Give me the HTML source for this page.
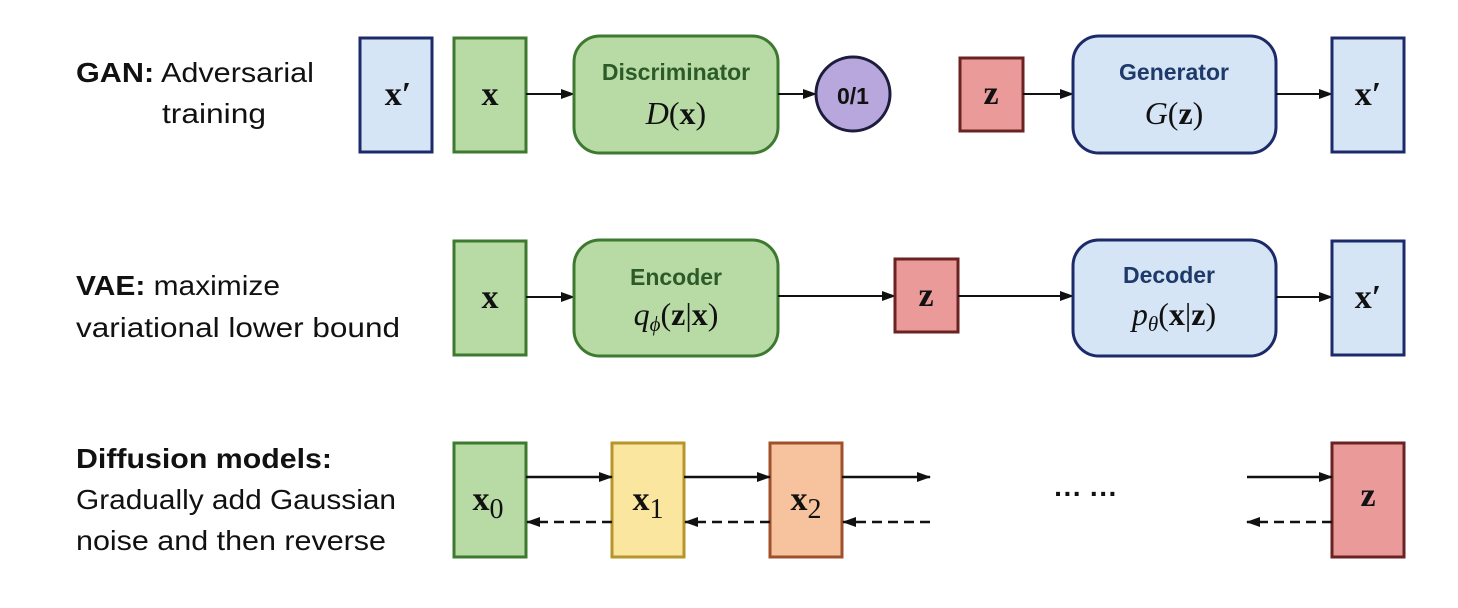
<!DOCTYPE html>
<html><head><meta charset="utf-8"><style>
html,body{margin:0;padding:0;background:#fff;}
svg{display:block;}
.t{font-family:"Liberation Sans",sans-serif;font-size:28px;fill:#111;}
.b{font-weight:bold;}
.m{font-family:"Liberation Serif",serif;font-weight:bold;font-size:34px;fill:#111;text-anchor:middle;}
.mi{font-family:"Liberation Serif",serif;font-size:32px;fill:#111;text-anchor:middle;}
.lab{font-family:"Liberation Sans",sans-serif;font-weight:bold;font-size:23px;text-anchor:middle;}
</style></head><body>
<svg width="1458" height="608" viewBox="0 0 1458 608" xmlns="http://www.w3.org/2000/svg">
<defs>
<marker id="a" markerWidth="14" markerHeight="10" refX="13" refY="5" orient="auto" markerUnits="userSpaceOnUse"><path d="M0,0 L14,5 L0,10 z" fill="#111"/></marker>
</defs>
<!-- left labels -->
<text class="t" x="76" y="82" textLength="238" lengthAdjust="spacingAndGlyphs"><tspan class="b">GAN:</tspan> Adversarial</text>
<text class="t" x="162" y="123" textLength="104" lengthAdjust="spacingAndGlyphs">training</text>
<text class="t" x="76" y="295" textLength="204" lengthAdjust="spacingAndGlyphs"><tspan class="b">VAE:</tspan> maximize</text>
<text class="t" x="76" y="337" textLength="324" lengthAdjust="spacingAndGlyphs">variational lower bound</text>
<text class="t b" x="76" y="468" textLength="256" lengthAdjust="spacingAndGlyphs">Diffusion models:</text>
<text class="t" x="76" y="509" textLength="320" lengthAdjust="spacingAndGlyphs">Gradually add Gaussian</text>
<text class="t" x="76" y="550" textLength="310" lengthAdjust="spacingAndGlyphs">noise and then reverse</text>

<g stroke-width="3">
<!-- GAN -->
<rect x="360" y="38" width="72" height="114" fill="#d5e5f5" stroke="#1c2a6a"/>
<text class="m" x="398" y="105">x′</text>
<rect x="454" y="38" width="72" height="114" fill="#b8dba5" stroke="#3d7a30"/>
<text class="m" x="490" y="105">x</text>
<line x1="526" y1="94" x2="574" y2="94" stroke="#111" stroke-width="2" marker-end="url(#a)"/>
<rect x="574" y="36" width="204" height="117" rx="26" fill="#b8dba5" stroke="#3d7a30"/>
<text class="lab" x="676" y="80" fill="#2c5a28">Discriminator</text>
<text class="mi" x="676" y="124"><tspan font-style="italic">D</tspan>(<tspan font-weight="bold">x</tspan>)</text>
<line x1="778" y1="94" x2="816" y2="94" stroke="#111" stroke-width="2" marker-end="url(#a)"/>
<circle cx="853" cy="94" r="37" fill="#b7a7dc" stroke="#1c1c3c"/>
<text class="lab" x="853" y="104" font-size="28" fill="#111">0/1</text>

<rect x="960" y="58" width="63" height="73" fill="#eb9a9a" stroke="#6a2222"/>
<text class="m" x="991" y="104">z</text>
<line x1="1023" y1="94" x2="1073" y2="94" stroke="#111" stroke-width="2" marker-end="url(#a)"/>
<rect x="1073" y="36" width="203" height="117" rx="26" fill="#d5e5f5" stroke="#1c2a6a"/>
<text class="lab" x="1174" y="80" fill="#1e3a6a">Generator</text>
<text class="mi" x="1174" y="124"><tspan font-style="italic">G</tspan>(<tspan font-weight="bold">z</tspan>)</text>
<line x1="1276" y1="94" x2="1332" y2="94" stroke="#111" stroke-width="2" marker-end="url(#a)"/>
<rect x="1332" y="38" width="72" height="114" fill="#d5e5f5" stroke="#1c2a6a"/>
<text class="m" x="1368" y="105">x′</text>

<!-- VAE -->
<rect x="454" y="241" width="72" height="114" fill="#b8dba5" stroke="#3d7a30"/>
<text class="m" x="490" y="308">x</text>
<line x1="526" y1="297" x2="574" y2="297" stroke="#111" stroke-width="2" marker-end="url(#a)"/>
<rect x="574" y="240" width="204" height="116" rx="26" fill="#b8dba5" stroke="#3d7a30"/>
<text class="lab" x="676" y="285" fill="#2c5a28">Encoder</text>
<text class="mi" x="676" y="325"><tspan font-style="italic">q<tspan font-size="21" dy="6">ϕ</tspan></tspan><tspan dy="-6">(</tspan><tspan font-weight="bold">z</tspan>|<tspan font-weight="bold">x</tspan>)</text>
<line x1="778" y1="296" x2="895" y2="296" stroke="#111" stroke-width="2" marker-end="url(#a)"/>
<rect x="895" y="259" width="63" height="73" fill="#eb9a9a" stroke="#6a2222"/>
<text class="m" x="926" y="306">z</text>
<line x1="958" y1="296" x2="1073" y2="296" stroke="#111" stroke-width="2" marker-end="url(#a)"/>
<rect x="1073" y="240" width="203" height="116" rx="26" fill="#d5e5f5" stroke="#1c2a6a"/>
<text class="lab" x="1169" y="283" fill="#1e3a6a">Decoder</text>
<text class="mi" x="1174" y="325"><tspan font-style="italic">p<tspan font-size="21" dy="6">θ</tspan></tspan><tspan dy="-6">(</tspan><tspan font-weight="bold">x</tspan>|<tspan font-weight="bold">z</tspan>)</text>
<line x1="1276" y1="297" x2="1332" y2="297" stroke="#111" stroke-width="2" marker-end="url(#a)"/>
<rect x="1332" y="241" width="72" height="114" fill="#d5e5f5" stroke="#1c2a6a"/>
<text class="m" x="1368" y="308">x′</text>

<!-- Diffusion -->
<rect x="454" y="443" width="72" height="114" fill="#b8dba5" stroke="#3d7a30"/>
<text class="m" x="488" y="510">x<tspan font-weight="normal" font-size="28" dy="8">0</tspan></text>
<rect x="612" y="443" width="72" height="114" fill="#fbe6a0" stroke="#b8952a"/>
<text class="m" x="648" y="510">x<tspan font-weight="normal" font-size="28" dy="8">1</tspan></text>
<rect x="770" y="443" width="72" height="114" fill="#f7c39e" stroke="#a0502a"/>
<text class="m" x="806" y="510">x<tspan font-weight="normal" font-size="28" dy="8">2</tspan></text>
<rect x="1332" y="443" width="72" height="114" fill="#eb9a9a" stroke="#6a2222"/>
<text class="m" x="1368" y="506">z</text>
</g>
<g stroke="#111" stroke-width="2.5" fill="none">
<line x1="526" y1="477" x2="612" y2="477" marker-end="url(#a)"/>
<line x1="684" y1="477" x2="770" y2="477" marker-end="url(#a)"/>
<line x1="842" y1="477" x2="930" y2="477" marker-end="url(#a)"/>
<line x1="1247" y1="477" x2="1332" y2="477" marker-end="url(#a)"/>
<line x1="612" y1="522" x2="527" y2="522" stroke-dasharray="10,6" marker-end="url(#a)"/>
<line x1="770" y1="522" x2="685" y2="522" stroke-dasharray="10,6" marker-end="url(#a)"/>
<line x1="930" y1="522" x2="843" y2="522" stroke-dasharray="10,6" marker-end="url(#a)"/>
<line x1="1332" y1="522" x2="1247" y2="522" stroke-dasharray="10,6" marker-end="url(#a)"/>
</g>
<text class="t b" x="1086" y="503" text-anchor="middle" font-size="26">··· ···</text>
</svg>
</body></html>
